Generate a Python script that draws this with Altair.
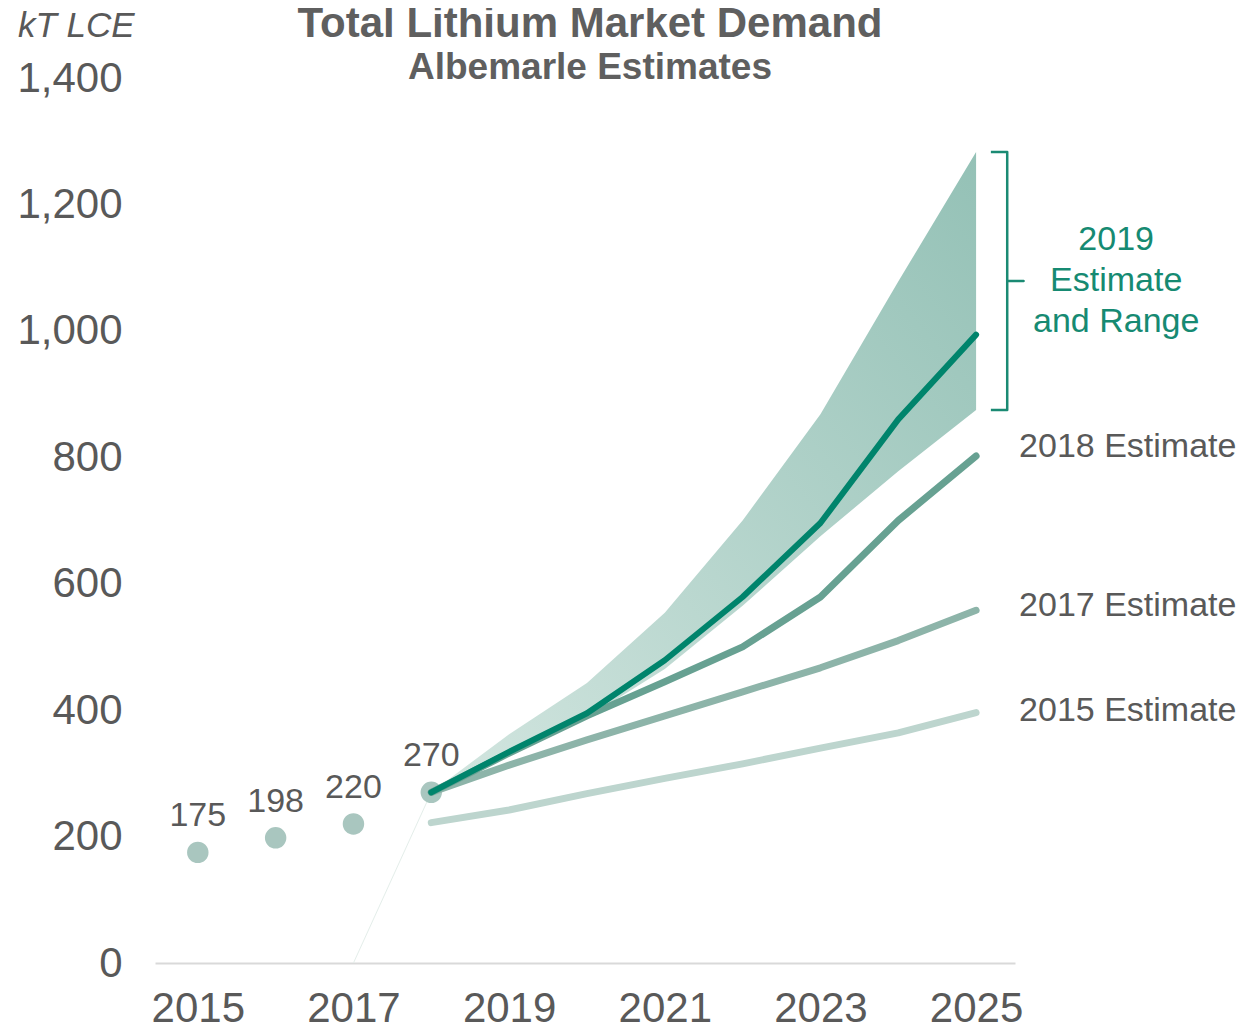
import altair as alt
import pandas as pd

# ---- data ----
years_hist = [2015, 2016, 2017, 2018]
demand_hist = [175, 198, 220, 270]

years_fc = [2018, 2019, 2020, 2021, 2022, 2023, 2024, 2025]
est_2015 = [222, 242, 268, 292, 315, 340, 364, 396]
est_2017 = [270, 313, 353, 391, 429, 467, 510, 558]
est_2018 = [270, 332, 391, 445, 500, 579, 700, 802]
est_2019 = [270, 334, 395, 479, 579, 696, 860, 994]
range_low = [270, 330, 388, 465, 565, 675, 778, 875]
range_high = [270, 362, 443, 554, 700, 868, 1078, 1283]

series_names = ["2015 Estimate", "2017 Estimate", "2018 Estimate"]
series_colors = ["#bdd5ce", "#8db4a9", "#67a192"]
color_2019 = "#00846c"
label_names = ["2018 Estimate", "2017 Estimate", "2015 Estimate"]
label_y = [816, 565, 399]

x_ticks = [2015, 2017, 2019, 2021, 2023, 2025]
y_ticks = [0, 200, 400, 600, 800, 1000, 1200, 1400]

FONT = "Liberation Sans"
GRAY = "#595959"
TEAL_TXT = "#168a72"

# ---- tables ----
hist = pd.DataFrame({"year": years_hist, "value": demand_hist, "label": [str(v) for v in demand_hist]})
rows = []
for name, vals in zip(series_names, [est_2015, est_2017, est_2018]):
    for y, v in zip(years_fc, vals):
        rows.append({"year": y, "value": v, "series": name})
lines = pd.DataFrame(rows)
line19 = pd.DataFrame({"year": years_fc, "value": est_2019})
band = pd.DataFrame({"year": years_fc, "low": range_low, "high": range_high})
faint = pd.DataFrame({"year": [2017, 2018], "value": [0, demand_hist[-1]]})
labels = pd.DataFrame({"year": [2025] * 3, "value": label_y, "label": label_names})

top, bot = max(range_high), range_low[-1]
mid = (top + bot) / 2
bx0, bx1, bx2 = 2025.19, 2025.40, 2025.61
brace = pd.DataFrame({
    "year": [bx0, bx1, bx1, bx2, bx1, bx1, bx0],
    "value": [top, top, mid, mid, mid, bot, bot],
    "o": list(range(7)),
})
brace_lbl = pd.DataFrame({"year": [2026.8], "value": [mid], "label": ["2019\nEstimate\nand Range"]})

xscale = alt.Scale(domain=[2014.45, 2025.5], nice=False, zero=False)
yscale = alt.Scale(domain=[0, 1400], nice=False)

X = alt.X("year:Q", scale=xscale,
          axis=alt.Axis(values=x_ticks, format="d", title=None, labelFontSize=42,
                        labelColor=GRAY, labelFont=FONT, labelPadding=25, ticks=False,
                        domainColor="#d9d9d9", domainWidth=2, grid=False))
Y = alt.Y("value:Q", scale=yscale,
          axis=alt.Axis(values=y_ticks, format=",d", title=None, labelFontSize=42,
                        labelColor=GRAY, labelFont=FONT, labelPadding=33, ticks=False,
                        domain=False, grid=False))

base = alt.Chart(hist)

area = alt.Chart(band).mark_area(
    color=alt.Gradient(
        gradient="linear",
        stops=[alt.GradientStop(color="#d3e6e0", offset=0),
               alt.GradientStop(color="#94c1b6", offset=1)],
        x1=0, x2=1, y1=1, y2=0),
).encode(x=X, y=alt.Y("low:Q", scale=yscale), y2="high:Q")

faint_line = alt.Chart(faint).mark_line(color="#e4eeea", strokeWidth=1).encode(
    x=alt.X("year:Q", scale=xscale), y=alt.Y("value:Q", scale=yscale))

dots = base.mark_circle(size=460, color="#a9c6bf", opacity=1).encode(x=X, y=Y)
dot_lbl = base.mark_text(dy=-36, fontSize=34, font=FONT, color=GRAY).encode(
    x=alt.X("year:Q", scale=xscale), y=alt.Y("value:Q", scale=yscale), text="label:N")

est_lines = alt.Chart(lines).mark_line(strokeWidth=7, strokeCap="round", strokeJoin="round").encode(
    x=alt.X("year:Q", scale=xscale), y=alt.Y("value:Q", scale=yscale),
    color=alt.Color("series:N", scale=alt.Scale(domain=series_names, range=series_colors), legend=None),
    detail="series:N")

l19 = alt.Chart(line19).mark_line(strokeWidth=6, strokeCap="round", strokeJoin="round", color=color_2019).encode(
    x=alt.X("year:Q", scale=xscale), y=alt.Y("value:Q", scale=yscale))

end_lbl = alt.Chart(labels).mark_text(align="left", dx=43, fontSize=34, font=FONT, color=GRAY).encode(
    x=alt.X("year:Q", scale=xscale), y=alt.Y("value:Q", scale=yscale), text="label:N")

brace_line = alt.Chart(brace).mark_line(color="#1a8a73", strokeWidth=2.5, strokeJoin="round").encode(
    x=alt.X("year:Q", scale=xscale), y=alt.Y("value:Q", scale=yscale), order="o:Q")

brace_text = alt.Chart(brace_lbl).mark_text(align="center", lineBreak="\n", lineHeight=41, dy=-41,
                                             fontSize=34, font=FONT, color=TEAL_TXT).encode(
    x=alt.X("year:Q", scale=xscale), y=alt.Y("value:Q", scale=yscale), text="label:N")

titles = alt.Chart(pd.DataFrame({"t": ["Total Lithium Market Demand"]})).mark_text(
    fontSize=42, fontWeight="bold", font=FONT, color="#5f5f5f", align="center", baseline="middle"
).encode(x=alt.value(435), y=alt.value(-54), text="t:N")
subtitle = alt.Chart(pd.DataFrame({"t": ["Albemarle Estimates"]})).mark_text(
    fontSize=37, fontWeight="bold", font=FONT, color="#5f5f5f", align="center", baseline="middle"
).encode(x=alt.value(435), y=alt.value(-10), text="t:N")
unit = alt.Chart(pd.DataFrame({"t": ["kT LCE"]})).mark_text(
    fontSize=35, fontStyle="italic", font=FONT, color=GRAY, align="left", baseline="middle"
).encode(x=alt.value(-137), y=alt.value(-52), text="t:N")

chart = alt.layer(
    area, faint_line, dots, est_lines, l19, dot_lbl, end_lbl, brace_line, brace_text,
    titles, subtitle, unit
).properties(
    width=860, height=885,
    autosize=alt.AutoSizeParams(type="none"),
    padding={"left": 147, "top": 70, "right": 229, "bottom": 66},
).configure_view(stroke=None)

chart.save("out.html", embed_options={"renderer": "svg", "actions": False})
